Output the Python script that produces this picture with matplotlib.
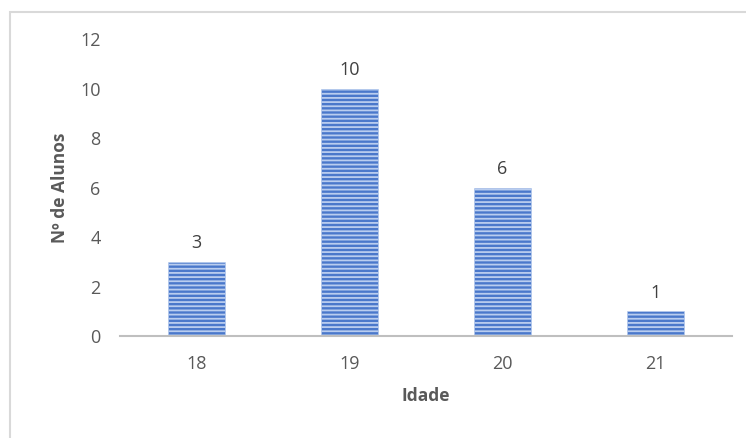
import matplotlib.pyplot as plt
from matplotlib.patches import Rectangle

idades = ["18", "19", "20", "21"]
alunos = [3, 10, 6, 1]
yticks = [0, 2, 4, 6, 8, 10, 12]

plt.rcParams['font.family'] = ['Open Sans', 'DejaVu Sans']
plt.rcParams['hatch.linewidth'] = 1.3
cinza = '#595959'

fig = plt.figure(figsize=(7.46, 4.38), dpi=100)
ax = fig.add_axes([0.161, 0.233, 0.82, 0.677])

x = range(len(idades))
barras = ax.bar(x, alunos, width=0.37, color='#4a78cb', edgecolor='#b9cdef',
                linewidth=0.4, hatch='----')

for b, v in zip(barras, alunos):
    ax.annotate(str(v), (b.get_x() + b.get_width() / 2, v), xytext=(0, 7),
                textcoords='offset points', ha='center', va='bottom',
                fontsize=13, color='#404040')

ax.set_xlim(-0.5, 3.5)
ax.set_ylim(0, 12)
ax.set_xticks(list(x))
ax.set_xticklabels(idades)
ax.set_yticks(yticks)

for s in ['top', 'right', 'left']:
    ax.spines[s].set_visible(False)
ax.spines['bottom'].set_color('#bfbfbf')
ax.spines['bottom'].set_linewidth(1.5)

ax.tick_params(axis='both', length=0, labelsize=13, labelcolor=cinza)
ax.tick_params(axis='y', pad=14)
ax.tick_params(axis='x', pad=14)

ax.set_xlabel('Idade', fontsize=12.5, fontweight='bold', color=cinza, labelpad=10)
ax.set_ylabel('Nº de Alunos', fontsize=12.5, fontweight='bold', color=cinza, labelpad=8)

# moldura do gráfico
fig.patches.append(Rectangle((9.5 / 746, -0.1), 1.0, 0.1 + (438 - 11.5) / 438,
                             transform=fig.transFigure, fill=False,
                             edgecolor='#d9d9d9', linewidth=1.5))

fig.savefig('out.png', dpi=100)
